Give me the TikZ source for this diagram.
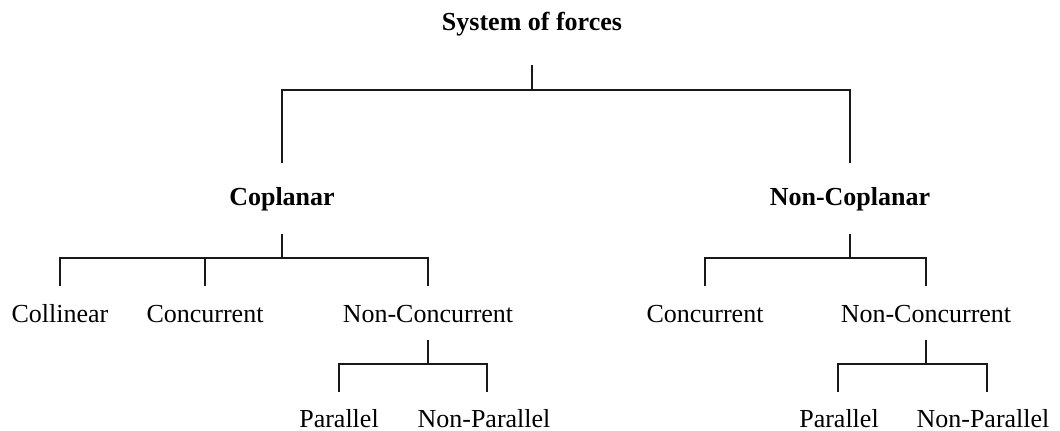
\documentclass[tikz,border=0pt]{standalone}
\usepackage{fontspec}
\setmainfont{Liberation Serif}
\begin{document}
\begin{tikzpicture}[x=0.75pt,y=-0.75pt,
  lbl/.style={anchor=base,inner sep=0pt,font=\fontsize{19.5}{23}\selectfont},
  head/.style={lbl,font=\fontsize{19.5}{23}\selectfont\bfseries},
  link/.style={draw=black!90,line width=1.3pt}]
\useasboundingbox (0,0) rectangle (1060,431);
% nodes
\node[head] (sys) at (532,31) {System of forces};
\node[head] (cop) at (282,205) {Coplanar};
\node[head] (ncop) at (850,205) {Non-Coplanar};
\node[lbl] (col) at (60,322) {Collinear};
\node[lbl] (conc1) at (205,322) {Concurrent};
\node[lbl] (ncon1) at (428,322) {Non-Concurrent};
\node[lbl] (conc2) at (705,322) {Concurrent};
\node[lbl] (ncon2) at (926,322) {Non-Concurrent};
\node[lbl] (par1) at (339,427) {Parallel};
\node[lbl] (npar1) at (484,427) {Non-Parallel};
\node[lbl] (par2) at (839,427) {Parallel};
\node[lbl] (npar2) at (983,427) {Non-Parallel};
% connector ends
\coordinate (sysS) at (532,65);
\coordinate (copN) at (282,163);
\coordinate (ncopN) at (850,163);
\coordinate (copS) at (282,234);
\coordinate (ncopS) at (850,234);
\coordinate (colN) at (60,286);
\coordinate (conc1N) at (205,286);
\coordinate (ncon1N) at (428,286);
\coordinate (conc2N) at (705,286);
\coordinate (ncon2N) at (926,286);
\coordinate (ncon1S) at (428,340);
\coordinate (ncon2S) at (926,340);
\coordinate (par1N) at (339,392);
\coordinate (npar1N) at (487,392);
\coordinate (par2N) at (838,392);
\coordinate (npar2N) at (987,392);
% connectors
\draw[link] (sysS) -- ++(0,25) -| (copN);
\draw[link] (sysS) -- ++(0,25) -| (ncopN);
\draw[link] (copS) -- ++(0,24) -| (colN);
\draw[link] (copS) -- ++(0,24) -| (conc1N);
\draw[link] (copS) -- ++(0,24) -| (ncon1N);
\draw[link] (ncopS) -- ++(0,24) -| (conc2N);
\draw[link] (ncopS) -- ++(0,24) -| (ncon2N);
\draw[link] (ncon1S) -- ++(0,24) -| (par1N);
\draw[link] (ncon1S) -- ++(0,24) -| (npar1N);
\draw[link] (ncon2S) -- ++(0,24) -| (par2N);
\draw[link] (ncon2S) -- ++(0,24) -| (npar2N);
\end{tikzpicture}
\end{document}
